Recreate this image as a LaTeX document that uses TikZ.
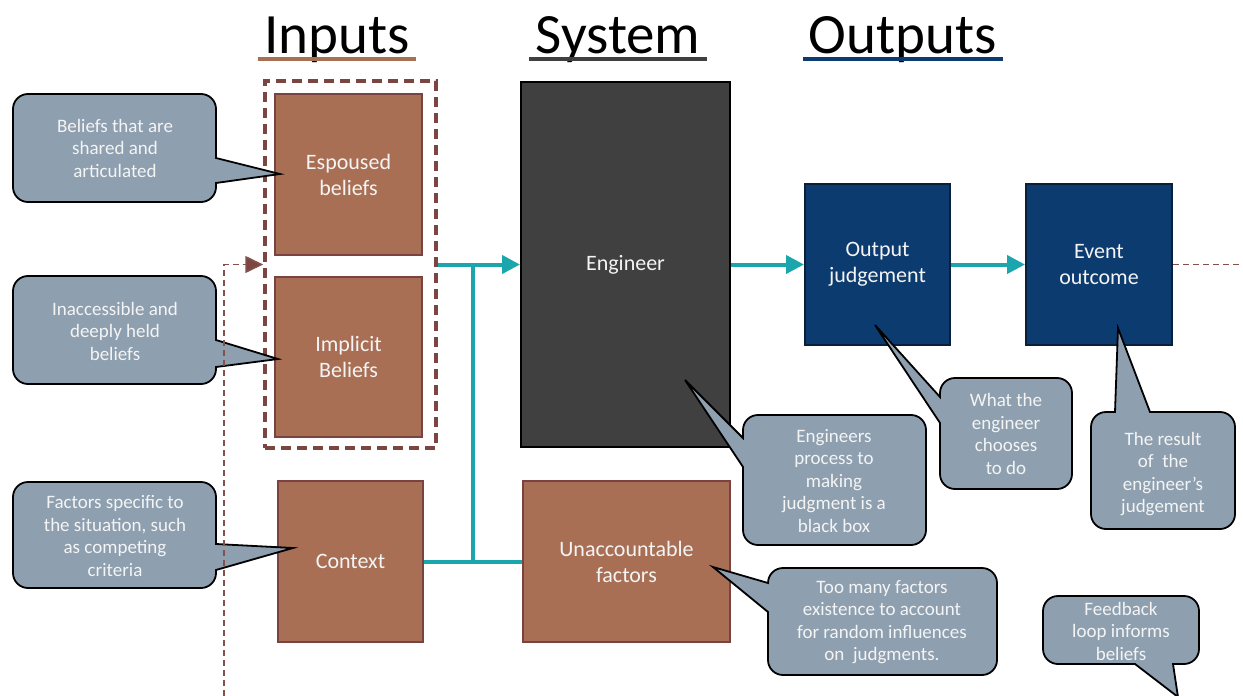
\documentclass[tikz,border=0pt]{standalone}
\usepackage{fontspec}
\setmainfont{Carlito}
\usetikzlibrary{arrows.meta}

\definecolor{brownfill}{HTML}{A86F55}
\definecolor{brownedge}{HTML}{7A4240}
\definecolor{dashbrown}{HTML}{7B4542}
\definecolor{fbbrown}{HTML}{84504C}
\definecolor{engfill}{HTML}{404040}
\definecolor{navyfill}{HTML}{0C3B70}
\definecolor{navyedge}{HTML}{0A1F3A}
\definecolor{tealline}{HTML}{1BA5AC}
\definecolor{calloutfill}{HTML}{8E9FB0}
\definecolor{labeltext}{HTML}{F4F4F4}

% speech bubbles: box corners x1 y1 x2 y2, tail base (two values), tail tip x y
\newcommand\calloutR[8]{\filldraw[callout] (#7,#8) -- (#3,#5) -- (#3,#2+15)
  arc[start angle=0,end angle=90,radius=15pt] -- (#1+15,#2)
  arc[start angle=90,end angle=180,radius=15pt] -- (#1,#4-15)
  arc[start angle=180,end angle=270,radius=15pt] -- (#3-15,#4)
  arc[start angle=270,end angle=360,radius=15pt] -- (#3,#6) -- cycle;}
\newcommand\calloutL[8]{\filldraw[callout] (#7,#8) -- (#1,#6) -- (#1,#4-15)
  arc[start angle=180,end angle=270,radius=15pt] -- (#3-15,#4)
  arc[start angle=270,end angle=360,radius=15pt] -- (#3,#2+15)
  arc[start angle=0,end angle=90,radius=15pt] -- (#1+15,#2)
  arc[start angle=90,end angle=180,radius=15pt] -- (#1,#5) -- cycle;}
\newcommand\calloutT[8]{\filldraw[callout] (#7,#8) -- (#5,#2) -- (#1+15,#2)
  arc[start angle=90,end angle=180,radius=15pt] -- (#1,#4-15)
  arc[start angle=180,end angle=270,radius=15pt] -- (#3-15,#4)
  arc[start angle=270,end angle=360,radius=15pt] -- (#3,#2+15)
  arc[start angle=0,end angle=90,radius=15pt] -- (#6,#2) -- cycle;}
\newcommand\calloutB[8]{\filldraw[callout] (#7,#8) -- (#6,#4) -- (#3-15,#4)
  arc[start angle=270,end angle=360,radius=15pt] -- (#3,#2+15)
  arc[start angle=0,end angle=90,radius=15pt] -- (#1+15,#2)
  arc[start angle=90,end angle=180,radius=15pt] -- (#1,#4-15)
  arc[start angle=180,end angle=270,radius=15pt] -- (#5,#4) -- cycle;}

\begin{document}
\begin{tikzpicture}[x=1pt,y=-1pt,
  title/.style={font=\fontsize{57}{60}\selectfont, inner sep=0pt, anchor=base},
  underline/.style={line width=4pt},
  box/.style={draw, line width=2pt, text=labeltext, align=center,
    font=\fontsize{22}{26}\selectfont, inner sep=0pt},
  inbox/.style={box, fill=brownfill, draw=brownedge},
  engbox/.style={box, fill=engfill, draw=black},
  outbox/.style={box, fill=navyfill, draw=navyedge},
  group/.style={draw=dashbrown, line width=3.5pt, dash pattern=on 10pt off 6pt},
  flow/.style={draw=tealline, line width=4pt},
  flowarrow/.style={flow, -{Triangle[length=18pt,width=18pt]}},
  feedback/.style={draw=fbbrown, line width=1.6pt, dash pattern=on 6pt off 4pt},
  callout/.style={fill=calloutfill, draw=black, line width=1.8pt, line join=miter},
  callouttext/.style={text=labeltext, align=center,
    font=\fontsize{19}{22.5}\selectfont, inner sep=0pt}]

\fill[white] (0,0) rectangle (1243,696);
\useasboundingbox (0,0) rectangle (1243,696);

% column headings
\node[title] (tin) at (337,53) {Inputs};
\node[title] (tsys) at (618,53) {System};
\node[title] (tout) at (903,53) {Outputs};
\draw[underline, brownfill] ([xshift=-6pt,yshift=-6pt]tin.base west) -- ([xshift=6pt,yshift=-6pt]tin.base east);
\draw[underline, engfill] ([xshift=-6pt,yshift=-6pt]tsys.base west) -- ([xshift=6pt,yshift=-6pt]tsys.base east);
\draw[underline, navyfill] ([xshift=-6pt,yshift=-6pt]tout.base west) -- ([xshift=6pt,yshift=-6pt]tout.base east);

% inputs
\node[inbox, minimum width=147pt, minimum height=161pt] (esp) at (348.5,174.5) {Espoused\\beliefs};
\node[inbox, minimum width=147pt, minimum height=160pt] (imp) at (348.5,357) {Implicit\\Beliefs};
\node[group, minimum width=171pt, minimum height=367pt, inner sep=0pt] (beliefs) at (350.5,264.5) {};
\node[inbox, minimum width=145pt, minimum height=161pt] (ctx) at (350.5,561.5) {Context};

% system
\node[engbox, minimum width=209pt, minimum height=365pt] (eng) at (625.5,264.5) {Engineer};
\node[inbox, minimum width=207pt, minimum height=161pt] (unacc) at (626.5,561.5) {Unaccountable\\factors};

% outputs
\node[outbox, minimum width=145pt, minimum height=161pt] (judg) at (877.5,264.5) {Output\\judgement};
\node[outbox, minimum width=146pt, minimum height=161pt] (event) at (1099,264.5) {Event\\outcome};

% flow connectors
\coordinate (junction) at (473,264.5);
\draw[flow] (ctx.east) -- (unacc.west);
\draw[flow] (junction) -- (junction |- ctx.east);
\draw[flowarrow] (beliefs.east) -- (eng.west);
\draw[flowarrow] (eng.east) -- (judg.west);
\draw[flowarrow] (judg.east) -- (event.west);

% speech bubbles
\calloutR{13}{94}{216}{202}{158}{183}{280}{174}
\calloutR{13}{276}{216}{384}{340}{367}{278}{359}
\calloutR{13}{482}{216}{588}{544}{570}{293}{548}
\calloutL{743}{415}{926}{545}{438}{467}{685}{380}
\calloutL{940}{378}{1072}{489}{397}{423}{875}{325}
\calloutT{1091}{412}{1235}{529}{1115}{1150}{1118}{328}
\calloutL{768}{568}{997}{675}{583}{612}{713}{567}
\calloutB{1043}{596}{1199}{664}{1135}{1173}{1178}{697}

\node[callouttext] (n1) at (115,148) {Beliefs that are\\shared and\\articulated};
\node[callouttext] (n2) at (115,331) {Inaccessible and\\deeply held\\beliefs};
\node[callouttext] (n3) at (115,536) {Factors specific to\\the situation, such\\as competing\\criteria};
\node[callouttext] (n4) at (834,481) {Engineers\\process to\\making\\judgment is a\\black box};
\node[callouttext] (n5) at (1006,434) {What the\\engineer\\chooses\\to do};
\node[callouttext] (n6) at (1163,474) {The result\\of\ \ the\\engineer’s\\judgement};
\node[callouttext] (n7) at (882,622) {Too many factors\\existence to account\\for random influences\\on\ \ judgments.};
\node[callouttext] (n8) at (1121,631) {Feedback\\loop informs\\beliefs};

% feedback loop
\coordinate (fbout) at (1243,264.5);
\coordinate (fbin) at (224,696);
\draw[feedback] (event.east) -- (fbout);
\draw[feedback, -{Triangle[length=18pt,width=17pt,fill=dashbrown]}] (fbin) -- (fbin |- beliefs.west) -- (beliefs.west);

\end{tikzpicture}
\end{document}
